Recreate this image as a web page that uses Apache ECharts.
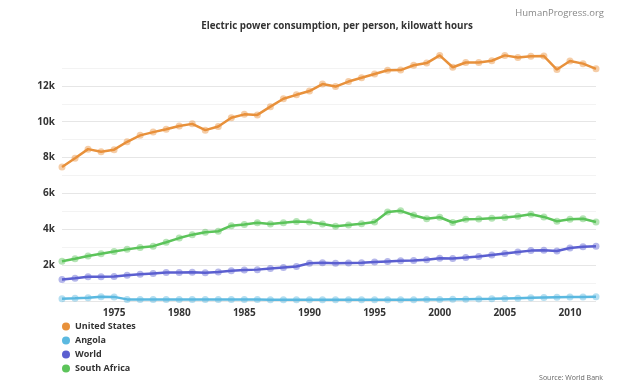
<!DOCTYPE html>
<html>
<head>
<meta charset="utf-8">
<script src="https://cdn.jsdelivr.net/npm/echarts@6/dist/echarts.min.js"></script>
<style>
html,body{margin:0;padding:0;background:#fff;}
#c{width:624px;height:386px;}
</style>
</head>
<body>
<div id="c"></div>
<script>
const years = [];
for (let y = 1971; y <= 2012; y++) years.push(String(y));

const seriesNames = ['United States', 'Angola', 'World', 'South Africa'];

const unitedStates = [7470, 7960, 8470, 8330, 8440, 8880, 9240, 9420, 9580, 9760, 9880, 9530, 9730, 10220, 10410, 10380, 10840, 11280, 11500, 11710, 12100, 11960, 12240, 12450, 12660, 12870, 12880, 13150, 13270, 13700, 13040, 13300, 13300, 13400, 13700, 13580, 13650, 13660, 12910, 13390, 13240, 12950];
const angola = [130, 150, 180, 240, 230, 90, 85, 85, 85, 85, 85, 80, 80, 80, 80, 80, 75, 75, 75, 75, 75, 70, 70, 70, 70, 70, 70, 75, 80, 85, 95, 100, 110, 120, 140, 160, 180, 200, 210, 220, 230, 240];
const world = [1200, 1270, 1350, 1350, 1370, 1440, 1490, 1540, 1590, 1590, 1610, 1580, 1620, 1690, 1730, 1750, 1810, 1870, 1920, 2110, 2140, 2110, 2120, 2130, 2180, 2210, 2240, 2260, 2300, 2380, 2370, 2420, 2480, 2570, 2650, 2730, 2810, 2830, 2790, 2960, 3020, 3050];
const southAfrica = [2212, 2360, 2510, 2640, 2760, 2880, 2990, 3060, 3280, 3510, 3700, 3830, 3890, 4200, 4270, 4360, 4300, 4370, 4430, 4400, 4300, 4170, 4240, 4310, 4400, 4960, 5030, 4780, 4590, 4670, 4380, 4560, 4580, 4620, 4660, 4730, 4840, 4690, 4450, 4560, 4590, 4410];

const colors = ['#e8913b', '#5bb9e0', '#5b5fd0', '#5cc45a'];
const seriesData = [unitedStates, angola, world, southAfrica];

const chart = echarts.init(document.getElementById('c'), null, {renderer: 'canvas'});
const font = '"Open Sans", "Noto Sans", sans-serif';

// split line colours: darker on labelled (even thousand) lines, faint on odd, none at 14k
const splitColors = [];
for (let v = 0; v <= 14000; v += 1000) {
  if (v === 14000) splitColors.push('rgba(0,0,0,0)');
  else if (v % 2000 === 0) splitColors.push('#e6e6e6');
  else splitColors.push('#f3f3f3');
}

chart.setOption({
  animation: false,
  color: colors,
  title: [{
    text: 'Electric power consumption, per person, kilowatt hours',
    left: 332, top: 16, textAlign: 'center',
    textStyle: {fontFamily: font, fontSize: 9.8, fontWeight: 'bold', color: '#333'}
  }, {
    text: 'HumanProgress.org',
    right: 15, top: 3,
    textStyle: {fontFamily: font, fontSize: 9.5, fontWeight: 'normal', color: '#888'}
  }, {
    text: 'Source: World Bank',
    right: 16, top: 369,
    textStyle: {fontFamily: font, fontSize: 7, fontWeight: 'normal', color: '#666'}
  }],
  legend: {
    orient: 'vertical',
    left: 57, top: 317,
    icon: 'circle',
    itemWidth: 8, itemHeight: 8, itemGap: 5,
    textStyle: {fontFamily: font, fontSize: 9, fontWeight: 'bold', color: '#333'},
    data: seriesNames.map((n, i) => ({name: n, itemStyle: {color: colors[i], opacity: 1}}))
  },
  grid: {left: 62, right: 28, top: 50, bottom: 85, containLabel: false},
  xAxis: {
    type: 'category',
    data: years,
    boundaryGap: false,
    axisLine: {show: false},
    axisTick: {show: false},
    axisLabel: {
      interval: (idx, val) => Number(val) % 5 === 0,
      fontFamily: font, fontSize: 10, fontWeight: 'bold', color: '#333', margin: 7
    },
    splitLine: {show: false}
  },
  yAxis: {
    type: 'value',
    min: 0, max: 14000, interval: 1000,
    axisLine: {show: false},
    axisTick: {show: false},
    axisLabel: {
      formatter: v => (v > 0 && v < 14000 && v % 2000 === 0) ? (v / 1000) + 'k' : '',
      fontFamily: font, fontSize: 10, fontWeight: 'bold', color: '#333', margin: 7
    },
    splitLine: {show: true, lineStyle: {color: splitColors, width: 1}}
  },
  series: seriesNames.map((n, i) => ({
    name: n,
    type: 'line',
    data: seriesData[i],
    symbol: 'circle',
    symbolSize: 7,
    showSymbol: true,
    lineStyle: {width: 2.5, color: colors[i]},
    itemStyle: {color: colors[i], opacity: 0.45, borderWidth: 0},
    z: 10 - i
  }))
});
</script>
</body>
</html>
